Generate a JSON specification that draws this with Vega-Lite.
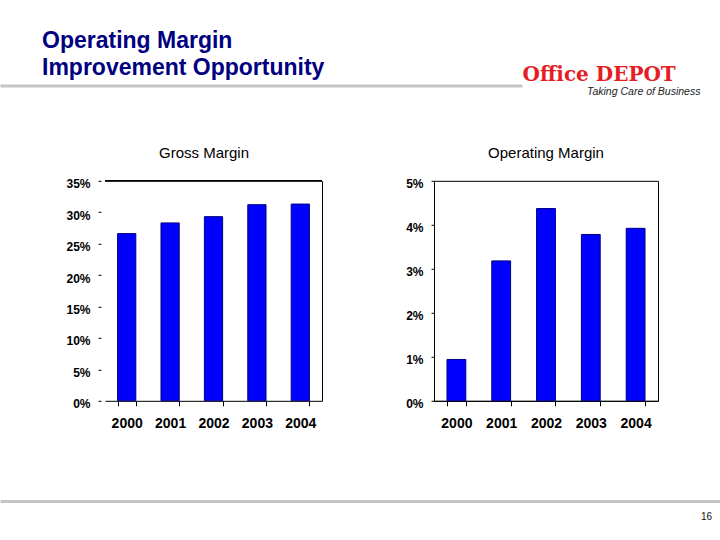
{
  "$schema": "https://vega.github.io/schema/vega-lite/v6.json",
  "background": "white",
  "padding": {"left": 0, "top": 29.5, "right": 0, "bottom": 0},
  "config": {
    "font": "Liberation Sans",
    "view": {"stroke": null},
    "axis": {"labelColor": "#000", "domainColor": "#000", "tickColor": "#000", "grid": false, "titleColor": "#000"},
    "title": {"color": "#000"}
  },
  "datasets": {
    "gm": [
      {"year": "2000", "value": 0.266},
      {"year": "2001", "value": 0.283},
      {"year": "2002", "value": 0.293},
      {"year": "2003", "value": 0.312},
      {"year": "2004", "value": 0.313}
    ],
    "om": [
      {"year": "2000", "value": 0.0094},
      {"year": "2001", "value": 0.0318},
      {"year": "2002", "value": 0.0437},
      {"year": "2003", "value": 0.0378},
      {"year": "2004", "value": 0.0392}
    ]
  },
  "spacing": 47.3,
  "vconcat": [
    {
      "spacing": 0,
      "hconcat": [
        {
          "width": 522,
          "height": 6,
          "data": {"values": []},
          "mark": "point",
          "encoding": {
            "x": {"field": "v", "type": "quantitative", "scale": {"domain": [0, 1]},
              "axis": {"orient": "bottom", "domain": true, "domainColor": "#c6c6c6", "domainWidth": 3, "ticks": false, "labels": false, "grid": false, "title": null}}
          },
          "title": {"text": ["Operating Margin", "Improvement Opportunity"], "anchor": "start", "dx": 42, "offset": 0, "fontSize": 23, "lineHeight": 27, "fontWeight": "bold", "color": "#000080", "font": "Liberation Sans"}
        },
        {
          "width": 198,
          "height": 4,
          "data": {"values": []},
          "mark": "point",
          "encoding": {
            "x": {"field": "v", "type": "quantitative", "scale": {"domain": [0, 1]},
              "axis": {"orient": "bottom", "domain": false, "ticks": false, "labels": false, "grid": false,
                "title": "Office DEPOT", "titleFont": "DejaVu Serif", "titleFontSize": 20, "titleFontWeight": "bold", "titleColor": "#e31e24", "titleAnchor": "start", "titleAlign": "left", "titlePadding": -19}}
          },
          "title": {"text": "Taking Care of Business", "orient": "bottom", "anchor": "start", "dx": 65, "offset": 2, "fontSize": 10.5, "fontStyle": "italic", "fontWeight": "normal", "color": "#222222"}
        }
      ]
    },
    {
      "spacing": 0,
      "hconcat": [
        {"width": 65, "height": 10, "data": {"values": []}, "mark": "point"},
        {
          "spacing": 82,
          "hconcat": [
            {
              "width": 217,
              "height": 220,
              "data": {"name": "gm"},
              "title": {"text": "Gross Margin", "fontSize": 15, "fontWeight": "normal", "offset": 17, "dx": -9.5, "color": "#000"},
              "layer": [
                {
                  "mark": {"type": "bar", "fill": "#0000ff", "stroke": "#000080", "strokeWidth": 1},
                  "encoding": {
                    "x": {"field": "year", "type": "nominal", "scale": {"paddingInner": 0.58, "paddingOuter": 0.29},
                      "axis": {"orient": "bottom", "title": null, "labelAngle": 0, "labelFontSize": 14, "labelFontWeight": "bold", "labelPadding": 11, "tickSize": 5, "tickBand": "extent"}},
                    "y": {"field": "value", "type": "quantitative", "scale": {"domain": [0, 0.35]},
                      "axis": {"orient": "left", "format": ".0%", "values": [0, 0.05, 0.1, 0.15, 0.2, 0.25, 0.3, 0.35], "title": null, "domain": false, "tickSize": 3, "offset": 4, "labelPadding": 8, "labelFontSize": 12, "labelFontWeight": "bold", "labelOffset": 3}}
                  }
                },
                {
                  "mark": {"type": "rule", "color": "#000", "strokeWidth": 1},
                  "encoding": {
                    "y": {"datum": 0.35, "type": "quantitative",
                      "axis": {"orient": "right", "domain": true, "ticks": false, "labels": false, "grid": false, "title": null}}
                  }
                }
              ],
              "resolve": {"axis": {"y": "independent"}}
            },
            {
              "width": 224,
              "height": 220,
              "data": {"name": "om"},
              "view": {"stroke": "#000", "strokeWidth": 1},
              "title": {"text": "Operating Margin", "fontSize": 15, "fontWeight": "normal", "offset": 17, "color": "#000"},
              "mark": {"type": "bar", "fill": "#0000ff", "stroke": "#000080", "strokeWidth": 1},
              "encoding": {
                "x": {"field": "year", "type": "nominal", "scale": {"paddingInner": 0.58, "paddingOuter": 0.29},
                  "axis": {"orient": "bottom", "title": null, "labelAngle": 0, "labelFontSize": 14, "labelFontWeight": "bold", "labelPadding": 11, "tickSize": 5, "tickBand": "extent"}},
                "y": {"field": "value", "type": "quantitative", "scale": {"domain": [0, 0.05]},
                  "axis": {"orient": "left", "format": ".0%", "values": [0, 0.01, 0.02, 0.03, 0.04, 0.05], "title": null, "domain": true, "tickSize": 3, "labelPadding": 8, "labelFontSize": 12, "labelFontWeight": "bold", "labelOffset": 3}}
              }
            }
          ]
        }
      ]
    },
    {
      "width": 720,
      "height": 22,
      "data": {"values": []},
      "mark": "point",
      "encoding": {
        "x": {"field": "v", "type": "quantitative", "scale": {"domain": [0, 1]},
          "axis": {"orient": "bottom", "domain": true, "domainColor": "#c6c6c6", "domainWidth": 3, "ticks": false, "labels": false, "grid": false, "title": null}}
      },
      "title": {"text": "16", "orient": "bottom", "anchor": "end", "dx": -8, "offset": 11, "fontSize": 10, "fontWeight": "normal", "color": "#111111"}
    }
  ]
}
